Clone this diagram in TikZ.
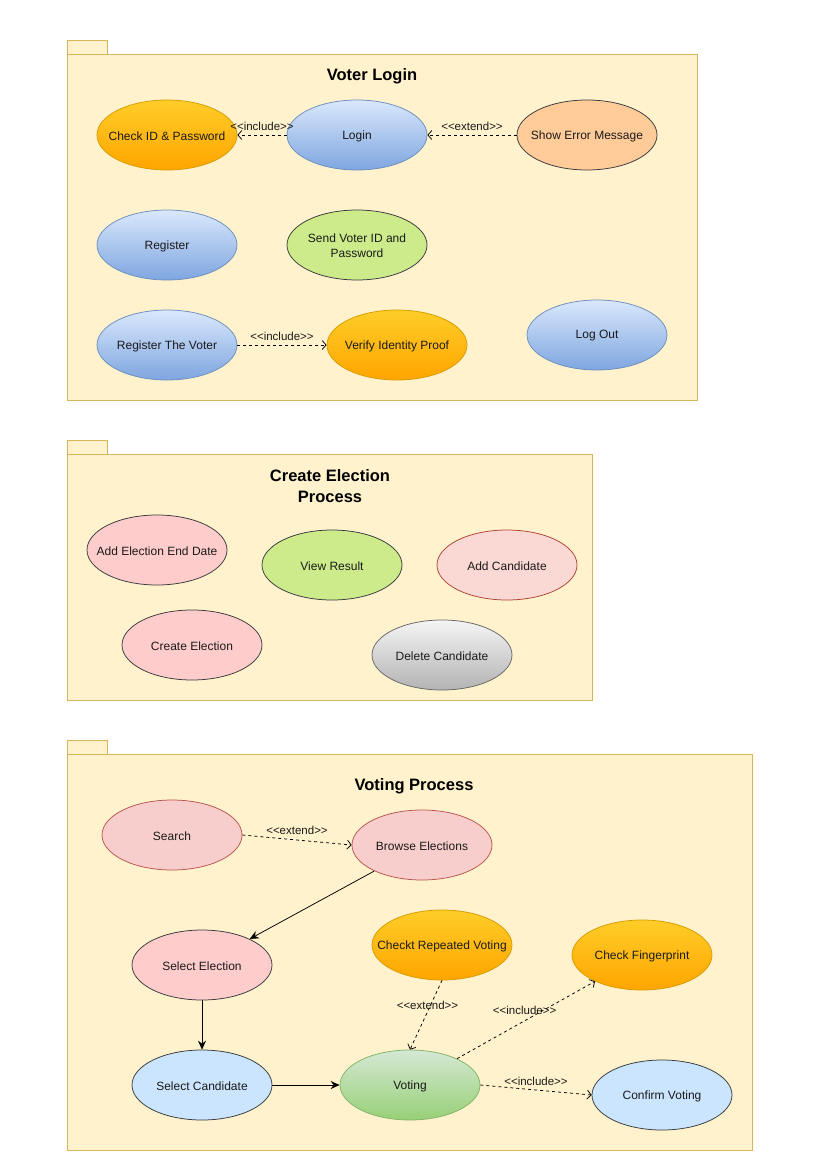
\documentclass[tikz,border=0pt]{standalone}
\usepackage{fontspec}
\setmainfont{Liberation Sans}[Ligatures=TeXOff]
\usetikzlibrary{shapes.geometric,arrows.meta}
\definecolor{pkgfill}{HTML}{FFF2CC}
\definecolor{pkgline}{HTML}{D6B656}
\definecolor{dark}{HTML}{36393D}
\tikzstyle{usecase} = [ellipse, minimum width=140pt, minimum height=70pt, inner sep=0pt, draw=dark]
\tikzstyle{orng} = [top color={rgb,255:red,255;green,205;blue,40}, bottom color={rgb,255:red,255;green,165;blue,0}, draw={rgb,255:red,215;green,155;blue,0}]
\tikzstyle{blu} = [top color={rgb,255:red,218;green,232;blue,252}, bottom color={rgb,255:red,126;green,166;blue,224}, draw={rgb,255:red,108;green,142;blue,191}]
\tikzstyle{grn} = [top color={rgb,255:red,213;green,232;blue,212}, bottom color={rgb,255:red,151;green,208;blue,119}, draw={rgb,255:red,130;green,179;blue,102}]
\tikzstyle{gry} = [top color={rgb,255:red,245;green,245;blue,245}, bottom color={rgb,255:red,179;green,179;blue,179}, draw={rgb,255:red,102;green,102;blue,102}]
\tikzstyle{pch} = [fill={rgb,255:red,255;green,204;blue,153}]
\tikzstyle{lim} = [fill={rgb,255:red,205;green,235;blue,139}]
\tikzstyle{pnk} = [fill={rgb,255:red,255;green,204;blue,204}]
\tikzstyle{rse} = [fill={rgb,255:red,248;green,206;blue,204}, draw={rgb,255:red,184;green,84;blue,80}]
\tikzstyle{sal} = [fill={rgb,255:red,250;green,217;blue,213}, draw={rgb,255:red,174;green,65;blue,50}]
\tikzstyle{sky} = [fill={rgb,255:red,204;green,229;blue,255}]
\tikzstyle{pkg} = [fill=pkgfill, draw=pkgline]
\tikzstyle{title} = [font=\fontsize{16.5}{20.5}\selectfont\bfseries, align=center]
\tikzstyle{uctext} = [font=\fontsize{12}{15}\selectfont, align=center, yshift=-1pt, text={rgb,255:red,26;green,26;blue,26}]
\tikzstyle{lbl} = [font=\fontsize{11.5}{13}\selectfont, inner sep=0pt, text={rgb,255:red,26;green,26;blue,26}]
\tikzstyle{dep} = [draw, dash pattern=on 3pt off 3pt, -{Straight Barb[length=4pt,width=9pt]}]
\tikzstyle{flow} = [draw, -{Stealth[length=9pt,width=8pt,inset=3pt]}]
\newcommand{\uc}[4]{\node [usecase, #3] (#1) at (#2) {}; \node [uctext] (#1t) at (#1) {#4};}
\newcommand{\pack}[3]{\draw [pkg] (#1,#2) rectangle ++(40,14); \draw [pkg] (#1,#2+14) rectangle (#3);}

\begin{document}
\begin{tikzpicture}[x=1pt, y=-1pt, line width=0.75pt]
	\useasboundingbox (0,0) rectangle (827,1169);
	\pack{67}{40}{697,400}
	\pack{67}{440}{592,700}
	\pack{67}{740}{752,1150}
	\node [title] (tlogin) at (372,76) {Voter Login};
	\node [title] (telect) at (330,486) {Create Election\\Process};
	\node [title] (tvote) at (414,786) {Voting Process};
	\uc{check}{167,135}{orng}{Check ID \& Password}
	\uc{login}{357,135}{blu}{Login}
	\uc{err}{587,135}{pch}{Show Error Message}
	\uc{reg}{167,245}{blu}{Register}
	\uc{send}{357,245}{lim}{Send Voter ID and\\Password}
	\uc{regv}{167,345}{blu}{Register The Voter}
	\uc{verify}{397,345}{orng}{Verify Identity Proof}
	\uc{logout}{597,335}{blu}{Log Out}
	\uc{enddate}{157,550}{pnk}{Add Election End Date}
	\uc{result}{332,565}{lim}{View Result}
	\uc{addcand}{507,565}{sal}{Add Candidate}
	\uc{create}{192,645}{pnk}{Create Election}
	\uc{delcand}{442,655}{gry}{Delete Candidate}
	\uc{search}{172,835}{rse}{Search}
	\uc{browse}{422,845}{rse}{Browse Elections}
	\uc{selel}{202,965}{pnk}{Select Election}
	\uc{repeat}{442,945}{orng}{Checkt Repeated Voting}
	\uc{finger}{642,955}{orng}{Check Fingerprint}
	\uc{selcand}{202,1085}{sky}{Select Candidate}
	\uc{voting}{410,1085}{grn}{Voting}
	\uc{confirm}{662,1095}{sky}{Confirm Voting}
	\draw [dep] (login.west) -- (check.east) node [lbl, midway, yshift=9pt] {<<include>>};
	\draw [dep] (err.west) -- (login.east) node [lbl, midway, yshift=9pt] {<<extend>>};
	\draw [dep] (regv.east) -- (verify.west) node [lbl, midway, yshift=9pt] {<<include>>};
	\draw [dep] (search.east) -- (browse.west) node [lbl, midway, yshift=10pt] {<<extend>>};
	\draw [flow] (browse) -- (selel);
	\draw [flow] (selel.south) -- (selcand.north);
	\draw [flow] (selcand.east) -- (voting.west);
	\draw [dep] (repeat.south) -- (voting.north) node [lbl, pos=0.36, xshift=-3pt] {<<extend>>};
	\draw [dep] (voting) -- (finger) node [lbl, pos=0.49, yshift=10pt] {<<include>>};
	\draw [dep] (voting.east) -- (confirm.west) node [lbl, midway, yshift=9pt] {<<include>>};
\end{tikzpicture}
\end{document}
